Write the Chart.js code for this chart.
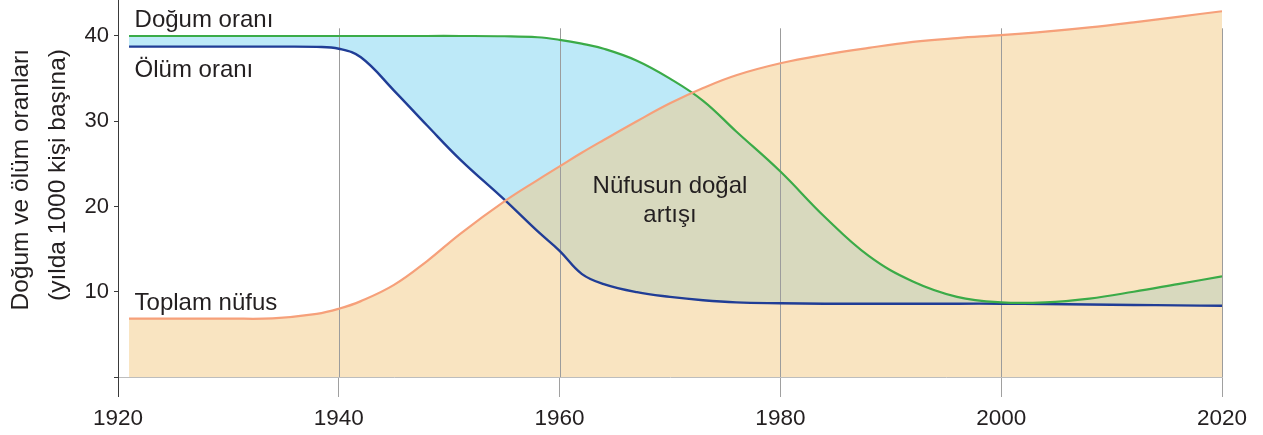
<!DOCTYPE html>
<html lang="tr">
<head>
<meta charset="utf-8">
<title>Doğum ve ölüm oranları</title>
<script src="https://cdn.jsdelivr.net/npm/chart.js@4.4.1/dist/chart.umd.min.js"></script>
<style>
  html, body { margin: 0; padding: 0; background: #fff; }
  #wrap { width: 1263px; height: 435px; position: relative; }
</style>
</head>
<body>
<div id="wrap"><canvas id="chart"></canvas></div>
<script>
// yıllar (ortak x değerleri)
const years = [1921, 1925, 1930, 1934, 1938, 1940, 1942, 1945, 1948, 1951, 1955, 1958, 1960, 1962, 1964,
  1967, 1970, 1973, 1976, 1980, 1984, 1988, 1992, 1996, 2000, 2004, 2008, 2012, 2016, 2020];

// doğum oranı (binde)
const birthRate = [40.0, 40.0, 40.0, 40.0, 40.0, 40.0, 40.0, 40.0, 40.0, 40.0, 39.97, 39.85, 39.55, 39.1, 38.5,
  37.1, 35.0, 32.4, 28.8, 24.1, 18.8, 14.2, 11.2, 9.4, 8.75, 8.75, 9.2, 10.0, 10.9, 11.8];

// ölüm oranı (binde)
const deathRate = [38.75, 38.75, 38.75, 38.75, 38.72, 38.5, 37.5, 33.6, 29.5, 25.5, 20.8, 17.1, 14.8, 12.1, 10.9,
  9.95, 9.4, 9.0, 8.75, 8.65, 8.6, 8.6, 8.6, 8.6, 8.6, 8.55, 8.5, 8.45, 8.4, 8.35];

// toplam nüfus (aynı ölçekte çizilmiş eğri)
const population = [6.85, 6.85, 6.85, 6.88, 7.4, 8.0, 8.9, 10.8, 13.6, 16.8, 20.6, 23.1, 24.7, 26.3, 27.8,
  30.0, 32.1, 33.9, 35.4, 36.8, 37.8, 38.6, 39.3, 39.75, 40.1, 40.5, 41.0, 41.6, 42.25, 42.9];

const xTicks = [1920, 1940, 1960, 1980, 2000, 2020];
const yTicks = [10, 20, 30, 40];

const annotations = [
  { text: 'Doğum oranı', x: 1921.5, y: 41.05, align: 'left' },
  { text: 'Ölüm oranı', x: 1921.5, y: 35.2, align: 'left' },
  { text: 'Toplam nüfus', x: 1921.5, y: 7.85, align: 'left' },
  { text: 'Nüfusun doğal', x: 1970, y: 21.6, align: 'center' },
  { text: 'artışı', x: 1970, y: 18.2, align: 'center' },
];
const yTitle = ['Doğum ve ölüm oranları', '(yılda 1000 kişi başına)'];

const toPoints = (vals) => years.map((x, i) => ({ x, y: vals[i] }));

Chart.defaults.font.family = "'Liberation Sans', Arial, sans-serif";
Chart.defaults.color = '#231f20';

const gridPlugin = {
  id: 'gridPlugin',
  beforeDatasetsDraw(chart) {
    const { ctx, scales: { x, y }, chartArea } = chart;
    ctx.save();
    ctx.strokeStyle = '#9c9c9c';
    ctx.lineWidth = 1;
    xTicks.slice(1).forEach(v => {
      const px = Math.round(x.getPixelForValue(v)) + 0.5;
      ctx.beginPath();
      ctx.moveTo(px, y.getPixelForValue(40.9));
      ctx.lineTo(px, chartArea.bottom);
      ctx.stroke();
    });
    ctx.restore();
  }
};

const textPlugin = {
  id: 'textPlugin',
  afterDatasetsDraw(chart) {
    const { ctx, scales: { x, y } } = chart;
    ctx.save();
    ctx.fillStyle = '#231f20';
    ctx.font = "24px 'Liberation Sans', Arial, sans-serif";
    ctx.textBaseline = 'alphabetic';
    annotations.forEach(a => {
      ctx.textAlign = a.align;
      ctx.fillText(a.text, x.getPixelForValue(a.x), y.getPixelForValue(a.y));
    });
    // eksen başlığı
    ctx.font = "24.5px 'Liberation Sans', Arial, sans-serif";
    ctx.textAlign = 'right';
    [28, 65].forEach((bx, i) => {
      ctx.save();
      ctx.translate(bx, 49);
      ctx.rotate(-Math.PI / 2);
      ctx.fillText(yTitle[i], 0, 0);
      ctx.restore();
    });
    ctx.restore();
  }
};

const lineStyle = { pointRadius: 0, tension: 0.4 };

new Chart(document.getElementById('chart'), {
  type: 'line',
  data: {
    datasets: [
      {
        ...lineStyle,
        label: 'Toplam nüfus',
        data: toPoints(population),
        borderColor: '#f6a07a',
        backgroundColor: 'rgba(243,201,131,0.5)',
        borderWidth: 2.2,
        fill: 'origin'
      },
      {
        ...lineStyle,
        label: 'Doğum oranı',
        data: toPoints(birthRate),
        borderColor: '#3bab48',
        backgroundColor: '#bde9f8',
        borderWidth: 2.2,
        fill: '+1'
      },
      {
        ...lineStyle,
        label: 'Ölüm oranı',
        data: toPoints(deathRate),
        borderColor: '#203d96',
        borderWidth: 2.4,
        fill: false
      }
    ]
  },
  options: {
    responsive: true,
    maintainAspectRatio: false,
    animation: false,
    events: [],
    layout: { padding: { left: 0, right: 41, top: 0, bottom: 0 } },
    plugins: {
      legend: { display: false },
      tooltip: { enabled: false },
      filler: { drawTime: 'beforeDatasetsDraw' }
    },
    scales: {
      x: {
        type: 'linear',
        min: 1920,
        max: 2020,
        afterBuildTicks: (s) => { s.ticks = xTicks.map(v => ({ value: v })); },
        ticks: { font: { size: 22.5 }, padding: 8, maxRotation: 0, callback: v => String(v) },
        grid: {
          drawOnChartArea: false,
          tickLength: 20,
          color: (c) => (c.tick && c.tick.value === 1920 ? '#3a3a3a' : '#a0a0a0')
        },
        border: { color: '#bdbdbd' },
        afterFit: (s) => { s.height = 58; s.paddingLeft = 0; s.paddingRight = 0; }
      },
      y: {
        min: 0,
        max: 44.22,
        afterBuildTicks: (s) => { s.ticks = [0].concat(yTicks).map(v => ({ value: v })); },
        ticks: { font: { size: 22 }, padding: 5, callback: v => (v === 0 ? '' : String(v)) },
        grid: { drawOnChartArea: false, tickLength: 4, color: '#3a3a3a' },
        border: { color: '#3a3a3a' },
        afterFit: (s) => { s.width = 118; s.paddingTop = 0; s.paddingBottom = 0; }
      }
    }
  },
  plugins: [gridPlugin, textPlugin]
});
</script>
</body>
</html>
